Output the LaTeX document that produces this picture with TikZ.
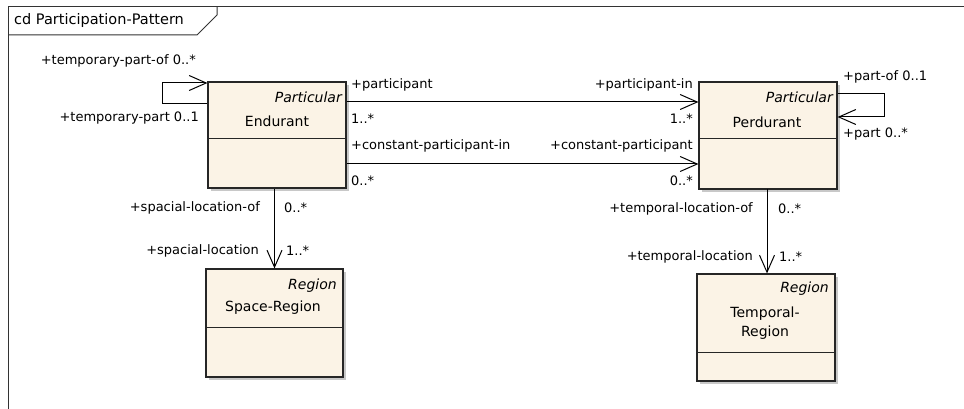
\documentclass[tikz,border=0pt]{standalone}
\usepackage{fontspec}
\setmainfont{DejaVu Sans}
\usetikzlibrary{arrows.meta,shadows}
\definecolor{boxfill}{HTML}{FBF3E6}
\definecolor{shadowgray}{HTML}{C8C8C8}
\tikzset{
  classbox/.style={draw=black!85, line width=1.2pt, fill=boxfill, rectangle, inner sep=0pt,
    drop shadow={shadow xshift=3pt, shadow yshift=-3pt, opacity=1, fill=shadowgray}},
  lbl/.style={inner sep=0pt, font=\fontsize{13}{15}\selectfont},
  stereo/.style={inner sep=0pt, font=\fontsize{14}{16}\selectfont\itshape, anchor=east},
  cname/.style={inner sep=0pt, font=\fontsize{14}{19}\selectfont, align=center},
  assoc/.style={line width=1pt, -{Straight Barb[length=17pt, width=15pt, line width=1pt]}},
  divider/.style={line width=1pt, black!85},
  frameline/.style={line width=1pt, black!80}
}
\begin{document}
\begin{tikzpicture}[x=1pt, y=-1pt]
\useasboundingbox (0,0) rectangle (964,409);
% frame
\draw[frameline] (8,409) -- (8,7) -- (964,7);
\draw[frameline] (8,35) -- (197,35) -- (217,15) -- (217,7);
\node[lbl, anchor=west, font=\fontsize{14.5}{16}\selectfont] (title) at (14,21) {cd Participation-Pattern};

% classes
\node[classbox, minimum width=138pt, minimum height=106pt] (end) at (277,135) {};
\node[classbox, minimum width=138pt, minimum height=107pt] (per) at (768,135.5) {};
\node[classbox, minimum width=137pt, minimum height=108pt] (spa) at (274.5,323) {};
\node[classbox, minimum width=138pt, minimum height=107pt] (tem) at (766,327.5) {};

\draw[divider] (end.west |- 0,139) -- (end.east |- 0,139);
\draw[divider] (per.west |- 0,139) -- (per.east |- 0,139);
\draw[divider] (spa.west |- 0,327) -- (spa.east |- 0,327);
\draw[divider] (tem.west |- 0,352) -- (tem.east |- 0,352);

\node[stereo] (endst) at (342,97) {Particular};
\node[cname] (endn) at (277,121) {Endurant};
\node[stereo] (perst) at (833,97) {Particular};
\node[cname] (pern) at (767,122) {Perdurant};
\node[stereo] (spast) at (337,286) {Region};
\node[cname] (span) at (273,308) {Space-Region};
\node[stereo] (temst) at (829,289) {Region};
\node[cname] (temn) at (765,323.5) {Temporal-\\Region};

% self loops
\coordinate (el1) at (162,104);
\coordinate (el2) at (162,83);
\draw[assoc] (end.west |- el1) -- (el1) -- (el2) -- (end.west |- el2);
\coordinate (pl1) at (884,94);
\coordinate (pl2) at (884,117);
\draw[assoc] (per.east |- pl1) -- (pl1) -- (pl2) -- (per.east |- pl2);

% horizontal associations
\coordinate (h1) at (0,102);
\coordinate (h2) at (0,164);
\draw[assoc] (end.east |- h1) -- (per.west |- h1);
\draw[assoc] (end.east |- h2) -- (per.west |- h2);

% vertical associations
\draw[assoc] (spa.north |- end.south) -- (spa.north);
\draw[assoc] (767,189) coordinate (tv) -- (tv |- tem.north);

% labels
\node[lbl, anchor=east] (l1) at (196,61) {+temporary-part-of 0..*};
\node[lbl, anchor=east] (l2) at (199,118) {+temporary-part 0..1};
\node[lbl, anchor=west] (l3) at (351,85) {+participant};
\node[lbl, anchor=west] (l4) at (351,119) {1..*};
\node[lbl, anchor=west] (l5) at (351,146) {+constant-participant-in};
\node[lbl, anchor=west] (l6) at (351,181) {0..*};
\node[lbl, anchor=east] (l7) at (693,85) {+participant-in};
\node[lbl, anchor=east] (l8) at (693,119) {1..*};
\node[lbl, anchor=east] (l9) at (693,146) {+constant-participant};
\node[lbl, anchor=east] (l10) at (693,181) {0..*};
\node[lbl, anchor=west] (l11) at (843,77) {+part-of 0..1};
\node[lbl, anchor=west] (l12) at (843,134) {+part 0..*};
\node[lbl, anchor=east] (l13) at (260,208) {+spacial-location-of};
\node[lbl, anchor=west] (l14) at (284,208) {0..*};
\node[lbl, anchor=east] (l15) at (259,251) {+spacial-location};
\node[lbl, anchor=west] (l16) at (286,251) {1..*};
\node[lbl, anchor=east] (l17) at (753,209) {+temporal-location-of};
\node[lbl, anchor=west] (l18) at (778,209) {0..*};
\node[lbl, anchor=east] (l19) at (753,257) {+temporal-location};
\node[lbl, anchor=west] (l20) at (779,257) {1..*};
\end{tikzpicture}
\end{document}
